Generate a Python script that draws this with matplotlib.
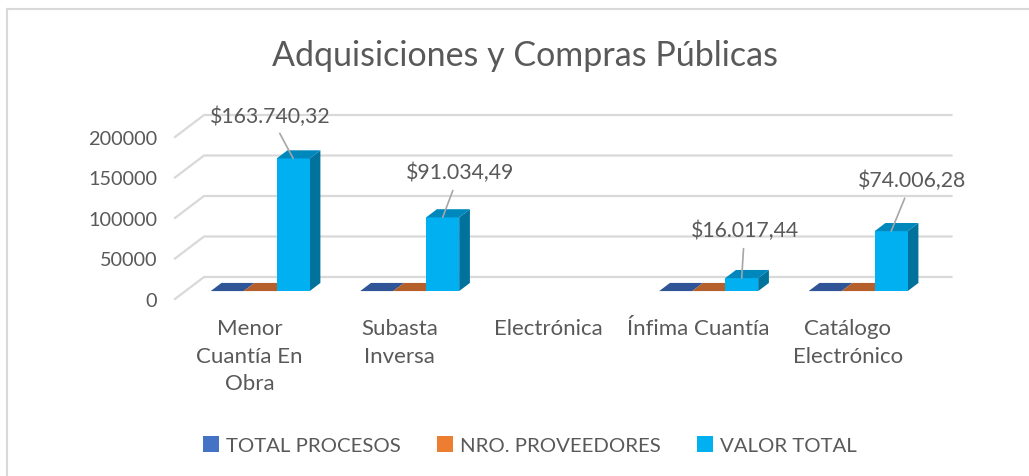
import numpy as np
import matplotlib.pyplot as plt
from matplotlib.patches import Polygon, Patch
from matplotlib.lines import Line2D

plt.rcParams['font.family'] = ['Lato', 'DejaVu Sans']

# DATA
categories = ['Menor\nCuantía En\nObra', 'Subasta\nInversa', 'Electrónica',
              'Ínfima Cuantía', 'Catálogo\nElectrónico']
series_names = ['TOTAL PROCESOS', 'NRO. PROVEEDORES', 'VALOR TOTAL']
total_procesos = [1, 3, np.nan, 6, 4]
nro_proveedores = [1, 2, np.nan, 5, 3]
valor_total = [163740.32, 91034.49, np.nan, 16017.44, 74006.28]
value_labels = ['$163.740,32', '$91.034,49', '', '$16.017,44', '$74.006,28']
y_ticks = [0, 50000, 100000, 150000, 200000]

# colours: front, top, side
front_cols = ['#4472C4', '#ED7D31', '#00B0F0']
top_cols = ['#2F5597', '#B5602A', '#0088BD']
side_cols = ['#264478', '#9E480E', '#00729C']
GRID = '#D9D9D9'
TXT = '#595959'

W, H = 1029, 477
fig = plt.figure(figsize=(W / 100, H / 100), dpi=100)

# front plane: x [-0.5, 4.5] -> px 175..922, y [0, 200000] -> px 300..138
ax = fig.add_axes([175 / W, (H - 300) / H, 747.5 / W, 162 / H])
ax.set_xlim(-0.5, 4.5)
ax.set_ylim(0, 200000)
for s in ax.spines.values():
    s.set_visible(False)

# depth vector (floor back - front) in data units
DX = 29 / 149.5
DY = 22 * 200000 / 162
D1, D2 = 0.36, 0.73  # bar depth range
BW = 0.2207

# perspective gridlines
for v in y_ticks:
    ax.plot([-0.5, -0.5 + DX, 4.5 + DX], [v, v + DY, v + DY], color=GRID,
            lw=1.6, clip_on=False, zorder=1)

all_series = [total_procesos, nro_proveedores, valor_total]
for i in range(len(categories)):
    for j, vals in enumerate(all_series):
        v = vals[i]
        if np.isnan(v):
            continue
        x0 = i - 1.5 * BW + j * BW
        fx, fy = x0 + D1 * DX, D1 * DY
        bx, by = x0 + D2 * DX, D2 * DY
        front = Polygon([(fx, fy), (fx + BW, fy), (fx + BW, fy + v), (fx, fy + v)],
                        closed=True, fc=front_cols[j], ec='none', clip_on=False, zorder=3)
        side = Polygon([(fx + BW, fy), (bx + BW, by), (bx + BW, by + v), (fx + BW, fy + v)],
                       closed=True, fc=side_cols[j], ec='none', clip_on=False, zorder=3)
        top = Polygon([(fx, fy + v), (fx + BW, fy + v), (bx + BW, by + v), (bx, by + v)],
                      closed=True, fc=top_cols[j], ec='none', clip_on=False, zorder=3)
        for p in (side, front, top):
            ax.add_patch(p)

# data labels for VALOR TOTAL
label_offsets = [(-23, 43), (17, 45), (0, 0), (3, 48), (21, 51)]
for i, v in enumerate(valor_total):
    if np.isnan(v):
        continue
    xc = i - 1.5 * BW + 2 * BW + BW / 2 + D1 * DX
    yc = v + D1 * DY
    ox, oy = label_offsets[i]
    ax.annotate(value_labels[i], xy=(xc, yc), xytext=(ox * 0.72, oy * 0.72),
                textcoords='offset points', ha='center', va='center',
                fontsize=15.3, color=TXT, zorder=5, annotation_clip=False,
                arrowprops=dict(arrowstyle='-', color='#A6A6A6', lw=1.2,
                                shrinkA=4, shrinkB=0))

# axes ticks
ax.set_yticks(y_ticks)
ax.set_yticklabels([str(t) for t in y_ticks])
ax.set_xticks(range(len(categories)))
ax.set_xticklabels(categories, linespacing=1.45, va='top')
ax.tick_params(axis='y', length=0, pad=13, labelsize=14.3, labelcolor=TXT)
ax.tick_params(axis='x', length=0, pad=14, labelsize=16, labelcolor=TXT)

# title
fig.text(525 / W, 1 - 56 / H, 'Adquisiciones y Compras Públicas', ha='center',
         va='center', fontsize=24.5, color=TXT)

# legend
handles = [Patch(fc=c, ec='none') for c in front_cols]
fig.legend(handles, series_names, loc='center', bbox_to_anchor=(530 / W, 1 - 446 / H),
           ncol=3, frameon=False, fontsize=14.7, labelcolor=TXT,
           handlelength=0.8, handleheight=0.8, handletextpad=0.35,
           columnspacing=1.75)

# chart frame (top and left edges)
fig.add_artist(Line2D([7 / W, 1], [1 - 10 / H, 1 - 10 / H], color=GRID, lw=1.5))
fig.add_artist(Line2D([7 / W, 7 / W], [0, 1 - 10 / H], color=GRID, lw=1.5))

fig.savefig('out.png', dpi=100)
